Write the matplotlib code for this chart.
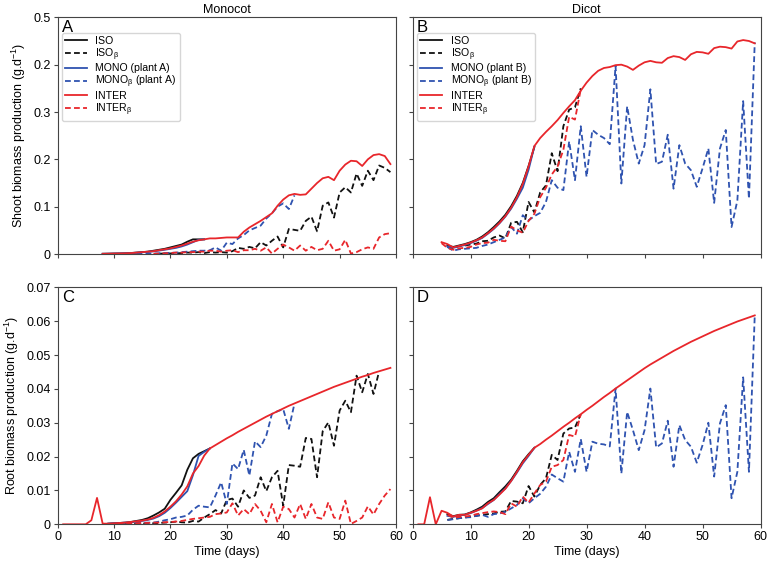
import numpy as np
import matplotlib
matplotlib.use('Agg')
import matplotlib.pyplot as plt

plt.rcParams['font.family'] = ['Liberation Sans', 'DejaVu Sans']
plt.rcParams['mathtext.default'] = 'regular'

# ---- data (g/d); each series starts on the given day ----
# Panel A: monocot shoot
a_inter_start = 8
a_inter = [0.0005, 0.0007, 0.001, 0.0012, 0.0015, 0.002, 0.003, 0.004, 0.005, 0.006,
           0.008, 0.010, 0.012, 0.015, 0.018, 0.022, 0.026, 0.029, 0.031, 0.033,
           0.033, 0.034, 0.035, 0.035, 0.035, 0.047, 0.056, 0.063, 0.070, 0.078,
           0.086, 0.102, 0.115, 0.124, 0.127, 0.125, 0.126, 0.138, 0.150, 0.160,
           0.163, 0.156, 0.176, 0.189, 0.197, 0.196, 0.186, 0.200, 0.209, 0.211,
           0.207, 0.190]
a_iso_start = 8
a_iso = [0.0005, 0.0007, 0.001, 0.0012, 0.0016, 0.0022, 0.003, 0.004, 0.005, 0.007,
         0.009, 0.011, 0.014, 0.017, 0.020, 0.026, 0.031, 0.031, 0.031]
a_mono_start = 8
a_mono = [0.0005, 0.0007, 0.001, 0.0012, 0.0015, 0.002, 0.0028, 0.0037, 0.0046, 0.0056,
          0.0072, 0.009, 0.011, 0.013, 0.016, 0.020, 0.025, 0.030, 0.031]
a_mono_b_start = 14
a_mono_b = [0.0003, 0.0005, 0.0008, 0.001, 0.0015, 0.002, 0.0025, 0.003, 0.004, 0.005,
            0.006, 0.007, 0.007, 0.008, 0.014, 0.007, 0.024, 0.021, 0.033, 0.040,
            0.050, 0.055, 0.060, 0.075, 0.086, 0.100, 0.107, 0.095, 0.124]
a_iso_b_start = 18
a_iso_b = [0.0008, 0.001, 0.0012, 0.0015, 0.002, 0.003, 0.003, 0.004, 0.002, 0.004,
           0.003, 0.004, 0.003, 0.006, 0.013, 0.011, 0.015, 0.012, 0.025, 0.018,
           0.028, 0.037, 0.014, 0.053, 0.051, 0.049, 0.070, 0.079, 0.048, 0.102,
           0.109, 0.077, 0.130, 0.141, 0.130, 0.170, 0.144, 0.176, 0.156, 0.187,
           0.182, 0.173]
a_inter_b_start = 17
a_inter_b = [0.0005, 0.001, 0.0015, 0.002, 0.003, 0.003, 0.004, 0.004, 0.005, 0.005,
             0.007, 0.007, 0.005, 0.007, 0.008, 0.004, 0.008, 0.008, 0.011, 0.007,
             0.014, 0.001, 0.011, 0.020, 0.014, 0.007, 0.018, 0.007, 0.015, 0.008,
             0.011, 0.028, 0.007, 0.010, 0.030, 0.001, 0.004, 0.010, 0.014, 0.011,
             0.035, 0.042, 0.044]

# Panel B: dicot shoot
b_inter_start = 5
b_inter = [0.025, 0.021, 0.014, 0.017, 0.020, 0.024, 0.029, 0.035, 0.044, 0.054,
           0.066, 0.080, 0.098, 0.120, 0.148, 0.185, 0.228, 0.245, 0.258, 0.270,
           0.283, 0.298, 0.312, 0.325, 0.345, 0.362, 0.376, 0.387, 0.393, 0.395,
           0.399, 0.400, 0.396, 0.389, 0.398, 0.405, 0.408, 0.405, 0.404, 0.414,
           0.418, 0.416, 0.410, 0.422, 0.427, 0.426, 0.423, 0.435, 0.438, 0.437,
           0.434, 0.449, 0.452, 0.450, 0.445]
b_iso_start = 6
b_iso = [0.018, 0.015, 0.018, 0.021, 0.025, 0.030, 0.037, 0.046, 0.057, 0.069,
         0.083, 0.101, 0.123, 0.150, 0.186, 0.226]
b_mono_start = 6
b_mono = [0.016, 0.013, 0.016, 0.019, 0.023, 0.028, 0.034, 0.043, 0.053, 0.065,
          0.079, 0.096, 0.117, 0.140, 0.178, 0.227]
b_iso_b_start = 6
b_iso_b = [0.015, 0.012, 0.017, 0.018, 0.020, 0.022, 0.027, 0.028, 0.035, 0.039,
           0.033, 0.066, 0.068, 0.046, 0.110, 0.088, 0.130, 0.145, 0.213, 0.175,
           0.270, 0.305, 0.310, 0.350]
b_inter_b_start = 5
b_inter_b = [0.023, 0.013, 0.009, 0.012, 0.013, 0.015, 0.020, 0.023, 0.024, 0.030,
             0.028, 0.027, 0.058, 0.050, 0.045, 0.070, 0.085, 0.120, 0.140, 0.168,
             0.185, 0.220, 0.290, 0.284, 0.348]
b_mono_b_start = 6
b_mono_b = [0.015, 0.007, 0.010, 0.011, 0.012, 0.013, 0.017, 0.020, 0.025, 0.030,
            0.035, 0.057, 0.043, 0.082, 0.071, 0.080, 0.087, 0.110, 0.156, 0.140,
            0.135, 0.238, 0.156, 0.270, 0.163, 0.262, 0.252, 0.245, 0.232, 0.397,
            0.149, 0.312, 0.241, 0.191, 0.230, 0.348, 0.190, 0.195, 0.252, 0.138,
            0.230, 0.191, 0.177, 0.142, 0.181, 0.223, 0.108, 0.223, 0.262, 0.057,
            0.113, 0.323, 0.117, 0.447]

# Panel C: monocot root
c_inter_start = 1
c_inter = [0, 0, 0, 0, 0, 0.0012, 0.0078, 0.0002, 0.0002, 0.0003,
           0.0004, 0.0005, 0.0007, 0.0009, 0.0011, 0.0014, 0.0019, 0.0027, 0.0038, 0.0052,
           0.0068, 0.0088, 0.0112, 0.0150, 0.0172, 0.0203, 0.0224, 0.0234, 0.0244, 0.0254,
           0.0263, 0.0273, 0.0282, 0.0291, 0.0300, 0.0309, 0.0318, 0.0326, 0.0334, 0.0342,
           0.0350, 0.0357, 0.0364, 0.0371, 0.0378, 0.0385, 0.0392, 0.0399, 0.0406, 0.0412,
           0.0418, 0.0424, 0.0430, 0.0436, 0.0441, 0.0447, 0.0452, 0.0457, 0.0462]
c_iso_start = 9
c_iso = [0.0002, 0.0003, 0.0004, 0.0005, 0.0007, 0.001, 0.0013, 0.0018, 0.0026, 0.0035,
         0.0046, 0.0072, 0.0093, 0.0115, 0.0161, 0.0195, 0.0208, 0.0216, 0.0224]
c_mono_start = 9
c_mono = [0.0002, 0.0003, 0.0004, 0.0005, 0.0006, 0.0008, 0.001, 0.0013, 0.0017, 0.0024,
          0.0034, 0.0048, 0.0064, 0.0081, 0.0098, 0.0145, 0.0202, 0.0214, 0.0224]
c_mono_b_start = 9
c_mono_b = [0.0001, 0.0002, 0.0002, 0.0003, 0.0003, 0.0004, 0.0004, 0.0005, 0.0005, 0.0008,
            0.0012, 0.0015, 0.002, 0.0022, 0.0026, 0.0043, 0.0055, 0.0052, 0.005, 0.0085,
            0.0124, 0.006, 0.018, 0.0163, 0.022, 0.0144, 0.0245, 0.0228, 0.0262, 0.0326,
            0.0334, 0.034, 0.0282, 0.0357]
c_iso_b_start = 12
c_iso_b = [0.0001, 0.0001, 0.0002, 0.0002, 0.0003, 0.0003, 0.0004, 0.0005, 0.0006, 0.0008,
           0.0006, 0.0005, 0.001, 0.0008, 0.002, 0.003, 0.0042, 0.0032, 0.0072, 0.0076,
           0.0052, 0.010, 0.0078, 0.0085, 0.0139, 0.0098, 0.0139, 0.0158, 0.0055, 0.0175,
           0.0173, 0.017, 0.0255, 0.0252, 0.0139, 0.0275, 0.0301, 0.0232, 0.0336, 0.0365,
           0.0331, 0.0439, 0.039, 0.0444, 0.0385, 0.0452]
c_inter_b_start = 9
c_inter_b = [0.0001, 0.0001, 0.0002, 0.0002, 0.0003, 0.0003, 0.0004, 0.0004, 0.0005, 0.0005,
             0.0006, 0.0007, 0.0008, 0.001, 0.0013, 0.0016, 0.0018, 0.002, 0.0022, 0.003,
             0.0032, 0.0035, 0.0062, 0.0026, 0.0045, 0.003, 0.006, 0.004, 0.0006, 0.006,
             0.0006, 0.0052, 0.0045, 0.002, 0.006, 0.0016, 0.006, 0.002, 0.0016, 0.0065,
             0.002, 0.0016, 0.007, 0.0001, 0.001, 0.002, 0.0053, 0.0029, 0.006, 0.0085,
             0.0104]

# Panel D: dicot root
d_inter_start = 1
d_inter = [0, 0, 0.008, 0, 0.004, 0.0034, 0.0023, 0.0028, 0.0028, 0.0034,
           0.004, 0.0047, 0.0062, 0.0072, 0.0088, 0.0105, 0.0128, 0.0155, 0.0183, 0.0205,
           0.0226, 0.0237, 0.0250, 0.0262, 0.0275, 0.0288, 0.0300, 0.0313, 0.0325, 0.0338,
           0.0350, 0.0363, 0.0376, 0.0388, 0.0401, 0.0413, 0.0425, 0.0437, 0.0449, 0.0461,
           0.0472, 0.0482, 0.0492, 0.0502, 0.0512, 0.0521, 0.0530, 0.0539, 0.0547, 0.0555,
           0.0563, 0.0571, 0.0578, 0.0585, 0.0592, 0.0599, 0.0605, 0.0611, 0.0617]
d_iso_start = 6
d_iso = [0.0030, 0.0024, 0.0028, 0.0029, 0.0035, 0.0043, 0.0052, 0.0066, 0.0077, 0.0095,
         0.0112, 0.0132, 0.0158, 0.0186, 0.0207, 0.0226]
d_mono_start = 6
d_mono = [0.0025, 0.0022, 0.0026, 0.0028, 0.0033, 0.004, 0.0048, 0.006, 0.0072, 0.009,
          0.0106, 0.0128, 0.0153, 0.018, 0.0202, 0.0226]
d_iso_b_start = 6
d_iso_b = [0.0013, 0.0016, 0.0018, 0.002, 0.0023, 0.0025, 0.0028, 0.003, 0.0032, 0.0037,
           0.0038, 0.0069, 0.0067, 0.0062, 0.0113, 0.0082, 0.0116, 0.0136, 0.0205, 0.019,
           0.0268, 0.0283, 0.0286, 0.0325]
d_inter_b_start = 6
d_inter_b = [0.0028, 0.002, 0.0022, 0.0023, 0.0025, 0.003, 0.0033, 0.0036, 0.0038, 0.0036,
             0.003, 0.0062, 0.0052, 0.0082, 0.0064, 0.0091, 0.0116, 0.0126, 0.017, 0.0175,
             0.019, 0.0264, 0.0259, 0.0325]
d_mono_b_start = 6
d_mono_b = [0.0013, 0.0015, 0.0018, 0.002, 0.0021, 0.0025, 0.0028, 0.0022, 0.003, 0.0032,
            0.0037, 0.0047, 0.0057, 0.0077, 0.0062, 0.0077, 0.009, 0.0111, 0.0147, 0.0136,
            0.0126, 0.0214, 0.0155, 0.0252, 0.0155, 0.0244, 0.0238, 0.0236, 0.023, 0.0401,
            0.015, 0.0332, 0.0278, 0.0219, 0.0278, 0.0401, 0.0227, 0.0239, 0.0306, 0.017,
            0.0293, 0.0249, 0.0229, 0.0182, 0.0234, 0.030, 0.0141, 0.0298, 0.0352, 0.0077,
            0.0155, 0.0434, 0.0155, 0.0617]

shoot_ticks = [0, 0.1, 0.2, 0.3, 0.4, 0.5]
shoot_ticklabels = ['0', '0.1', '0.2', '0.3', '0.2', '0.5']
root_ticks = [0, 0.01, 0.02, 0.03, 0.04, 0.05, 0.06, 0.07]
root_ticklabels = ['0', '0.01', '0.02', '0.03', '0.04', '0.05', '0.06', '0.07']
day_ticks = [0, 10, 20, 30, 40, 50, 60]

BLACK = '#111111'
BLUE = '#2f53b0'
RED = '#e8262b'
LW = 1.3
DASH = (0, (3.2, 1.8))
FS = 9


def days(start, vals):
    return np.arange(start, start + len(vals))


def draw(ax, series, plant):
    (iso, iso_s), (iso_b, iso_b_s), (mono, mono_s), (mono_b, mono_b_s), (inter, inter_s), (inter_b, inter_b_s) = series
    ax.plot(days(iso_s, iso), iso, color=BLACK, lw=LW, label='ISO')
    ax.plot(days(iso_b_s, iso_b), iso_b, color=BLACK, lw=LW, ls=DASH, label='ISO$_{β}$')
    ax.plot(days(mono_s, mono), mono, color=BLUE, lw=LW, label='MONO (plant %s)' % plant)
    ax.plot(days(mono_b_s, mono_b), mono_b, color=BLUE, lw=LW, ls=DASH,
            label='MONO$_{β}$ (plant %s)' % plant)
    ax.plot(days(inter_s, inter), inter, color=RED, lw=LW, label='INTER')
    ax.plot(days(inter_b_s, inter_b), inter_b, color=RED, lw=LW, ls=DASH, label='INTER$_{β}$')


def style(ax, letter, ylim, yticks, yticklabels, show_y, show_x):
    ax.set_xlim(0, 60)
    ax.set_ylim(*ylim)
    ax.set_xticks(day_ticks)
    ax.set_yticks(yticks)
    if show_y:
        ax.set_yticklabels(yticklabels)
    else:
        ax.set_yticklabels([])
    if not show_x:
        ax.set_xticklabels([])
    ax.tick_params(labelsize=FS, length=3, width=0.8, color='#444444', pad=2)
    for s in ax.spines.values():
        s.set_color('#444444')
        s.set_linewidth(0.8)
    ax.text(0.013, 0.99, letter, transform=ax.transAxes, fontsize=12, va='top', ha='left')


fig = plt.figure(figsize=(7.68, 5.61), dpi=100)
axA = fig.add_axes([0.0749, 0.5472, 0.4408, 0.4219])
axB = fig.add_axes([0.5372, 0.5472, 0.4531, 0.4219])
axC = fig.add_axes([0.0749, 0.0654, 0.4408, 0.4225])
axD = fig.add_axes([0.5372, 0.0654, 0.4531, 0.4225])

draw(axA, [(a_iso, a_iso_start), (a_iso_b, a_iso_b_start), (a_mono, a_mono_start),
           (a_mono_b, a_mono_b_start), (a_inter, a_inter_start), (a_inter_b, a_inter_b_start)], 'A')
draw(axB, [(b_iso, b_iso_start), (b_iso_b, b_iso_b_start), (b_mono, b_mono_start),
           (b_mono_b, b_mono_b_start), (b_inter, b_inter_start), (b_inter_b, b_inter_b_start)], 'B')
draw(axC, [(c_iso, c_iso_start), (c_iso_b, c_iso_b_start), (c_mono, c_mono_start),
           (c_mono_b, c_mono_b_start), (c_inter, c_inter_start), (c_inter_b, c_inter_b_start)], 'A')
draw(axD, [(d_iso, d_iso_start), (d_iso_b, d_iso_b_start), (d_mono, d_mono_start),
           (d_mono_b, d_mono_b_start), (d_inter, d_inter_start), (d_inter_b, d_inter_b_start)], 'B')

style(axA, 'A', (0, 0.5), shoot_ticks, shoot_ticklabels, True, False)
style(axB, 'B', (0, 0.5), shoot_ticks, shoot_ticklabels, False, False)
style(axC, 'C', (0, 0.07), root_ticks, root_ticklabels, True, True)
style(axD, 'D', (0, 0.07), root_ticks, root_ticklabels, False, True)

for ax in (axA, axB):
    ax.legend(loc='upper left', bbox_to_anchor=(0.012, 0.935), fontsize=7.6, frameon=True,
              edgecolor='#cccccc', fancybox=True, handlelength=2.1, handletextpad=0.8,
              labelspacing=0.05, borderpad=0.3, borderaxespad=0)

axA.set_title('Monocot', fontsize=FS, pad=3)
axB.set_title('Dicot', fontsize=FS, pad=3)
axA.set_ylabel('Shoot biomass production (g.d$^{-1}$)', fontsize=FS, labelpad=4)
axC.set_ylabel('Root biomass production (g.d$^{-1}$)', fontsize=FS, labelpad=4)
axC.set_xlabel('Time (days)', fontsize=FS, labelpad=2)
axD.set_xlabel('Time (days)', fontsize=FS, labelpad=2)

fig.savefig('out.png', dpi=100)
